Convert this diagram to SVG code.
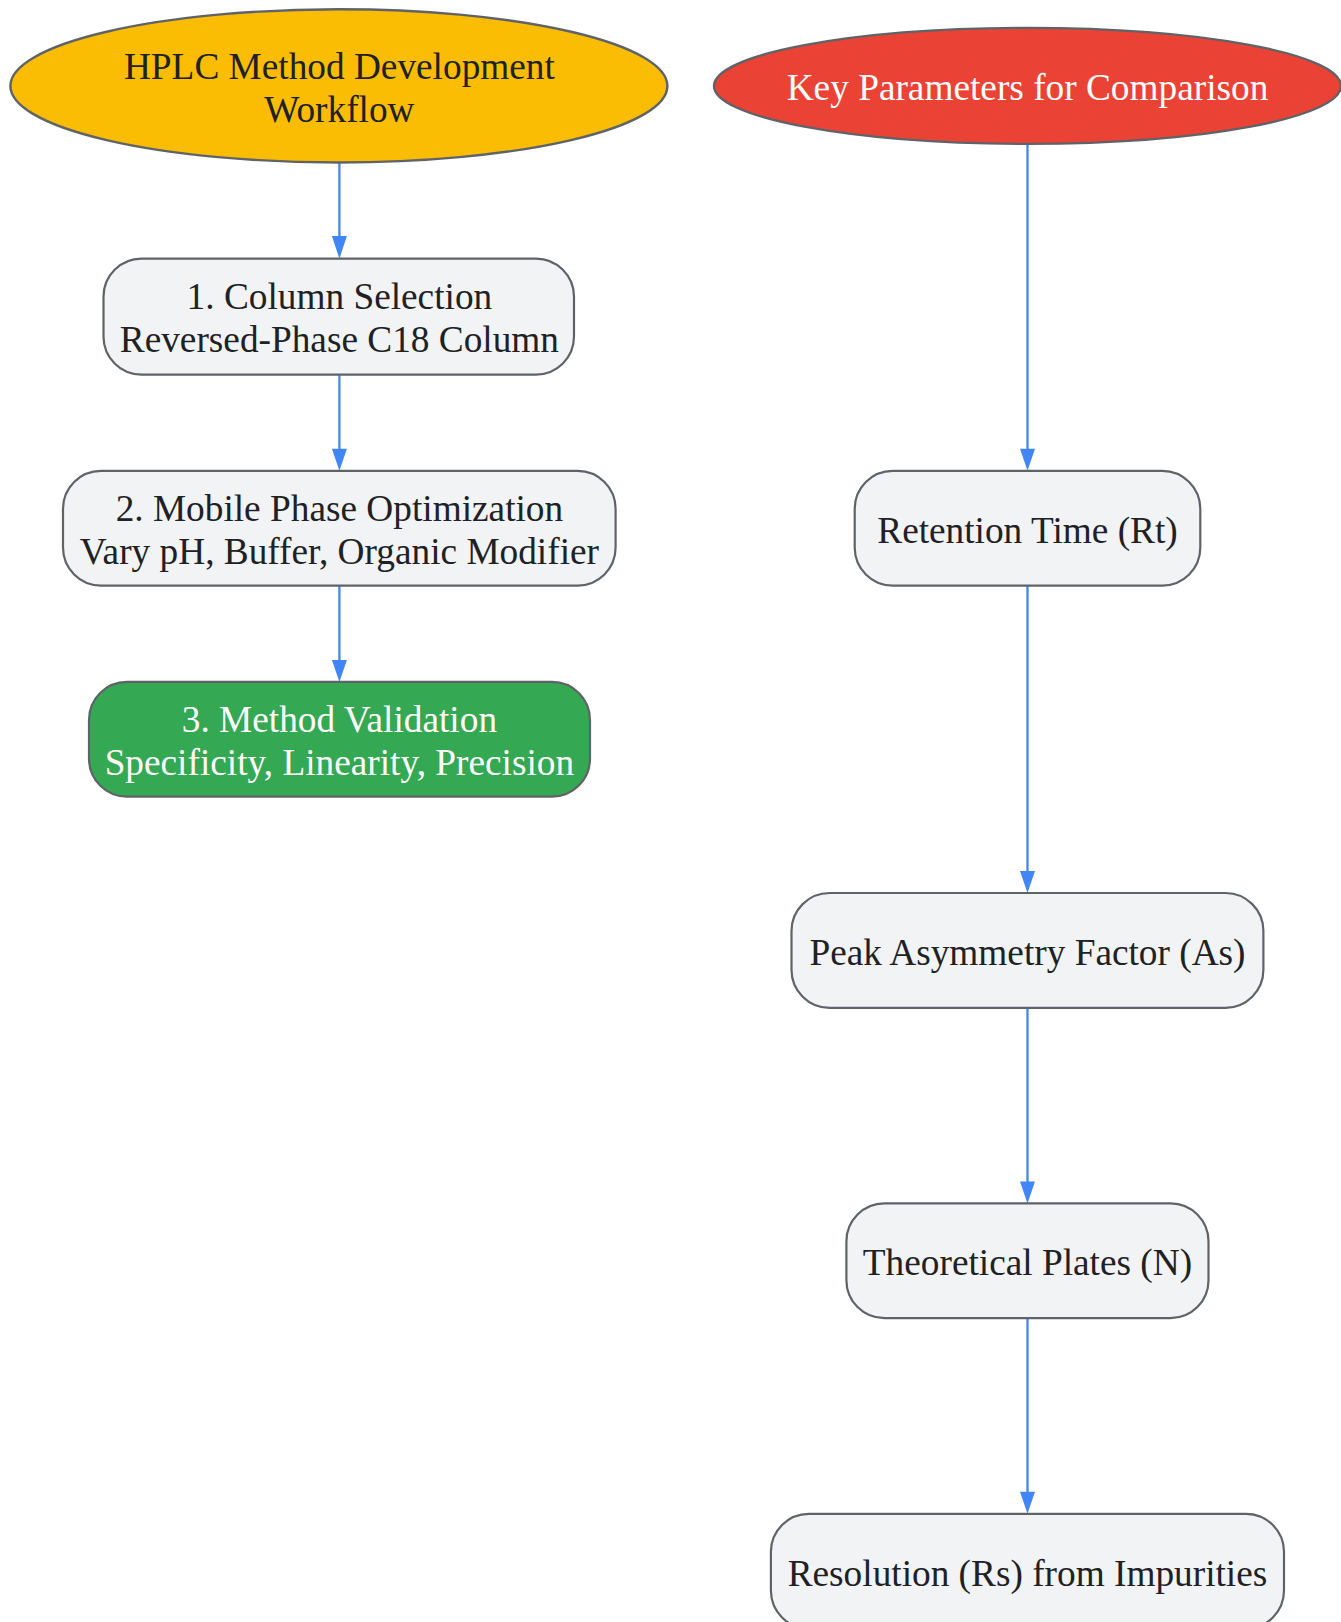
<svg xmlns="http://www.w3.org/2000/svg" width="1341" height="1622" viewBox="0 0 1341 1622">
<style>
.node rect{fill:#F1F3F4;stroke:#5F6368;stroke-width:2.2}
.term{stroke:#5F6368;stroke-width:2.4}
text{font-family:"Liberation Serif","Times New Roman",serif;font-size:37.3px;fill:#202124;text-anchor:middle;dominant-baseline:central}
.w{fill:#FFFFFF}
.edge{stroke:#4285F4;stroke-width:2.3;fill:none}
.head{fill:#4285F4}
</style>
<rect width="1341" height="1622" fill="#FFFFFF"/>
<g id="connectors">
<line class="edge" x1="339.4" y1="162.4" x2="339.4" y2="238"/>
<path class="head" d="M331.9,236 L346.9,236 L339.4,258.7 Z"/>
<line class="edge" x1="339.4" y1="374.6" x2="339.4" y2="450"/>
<path class="head" d="M331.9,448.8 L346.9,448.8 L339.4,470.8 Z"/>
<line class="edge" x1="339.4" y1="585.6" x2="339.4" y2="661"/>
<path class="head" d="M331.9,659.9 L346.9,659.9 L339.4,681.9 Z"/>
<line class="edge" x1="1027.5" y1="143.8" x2="1027.5" y2="450"/>
<path class="head" d="M1020,448.8 L1035,448.8 L1027.5,470.8 Z"/>
<line class="edge" x1="1027.5" y1="585.6" x2="1027.5" y2="872"/>
<path class="head" d="M1020,871 L1035,871 L1027.5,893 Z"/>
<line class="edge" x1="1027.5" y1="1007.8" x2="1027.5" y2="1182"/>
<path class="head" d="M1020,1181.4 L1035,1181.4 L1027.5,1203.4 Z"/>
<line class="edge" x1="1027.5" y1="1318.2" x2="1027.5" y2="1492"/>
<path class="head" d="M1020,1491.8 L1035,1491.8 L1027.5,1513.8 Z"/>
</g>
<g id="hplc">
<ellipse class="term" cx="338.9" cy="85.9" rx="328.5" ry="76.6" fill="#FBBC04"/>
<text x="339.4" y="66">HPLC Method Development</text>
<text x="339.4" y="109.5">Workflow</text>
</g>
<g id="keyparams">
<ellipse class="term" cx="1027.5" cy="85.9" rx="313.5" ry="58" fill="#EA4335"/>
<text class="w" x="1027.5" y="87">Key Parameters for Comparison</text>
</g>
<g id="step1" class="node">
<rect x="103.5" y="258.7" width="470.5" height="115.9" rx="38"/>
<text x="339.4" y="296">1. Column Selection</text>
<text x="339.4" y="339.5">Reversed-Phase C18 Column</text>
</g>
<g id="step2" class="node">
<rect x="63" y="470.8" width="552.6" height="114.8" rx="38"/>
<text x="339.4" y="508">2. Mobile Phase Optimization</text>
<text x="339.4" y="551.5">Vary pH, Buffer, Organic Modifier</text>
</g>
<g id="step3">
<rect x="89" y="681.9" width="501" height="114.8" rx="38" fill="#34A853" stroke="#5F6368" stroke-width="2.2"/>
<text class="w" x="339.4" y="719">3. Method Validation</text>
<text class="w" x="339.4" y="762.5">Specificity, Linearity, Precision</text>
</g>
<g id="rt" class="node">
<rect x="854.7" y="470.8" width="345.6" height="114.8" rx="38"/>
<text x="1027.5" y="530">Retention Time (Rt)</text>
</g>
<g id="as" class="node">
<rect x="791.5" y="893" width="471.9" height="114.8" rx="38"/>
<text x="1027.5" y="952">Peak Asymmetry Factor (As)</text>
</g>
<g id="n" class="node">
<rect x="846.4" y="1203.4" width="362.1" height="114.8" rx="38"/>
<text x="1027.5" y="1262">Theoretical Plates (N)</text>
</g>
<g id="rs" class="node">
<rect x="770.9" y="1513.8" width="513.1" height="114.8" rx="38"/>
<text x="1027.5" y="1573">Resolution (Rs) from Impurities</text>
</g>
</svg>
